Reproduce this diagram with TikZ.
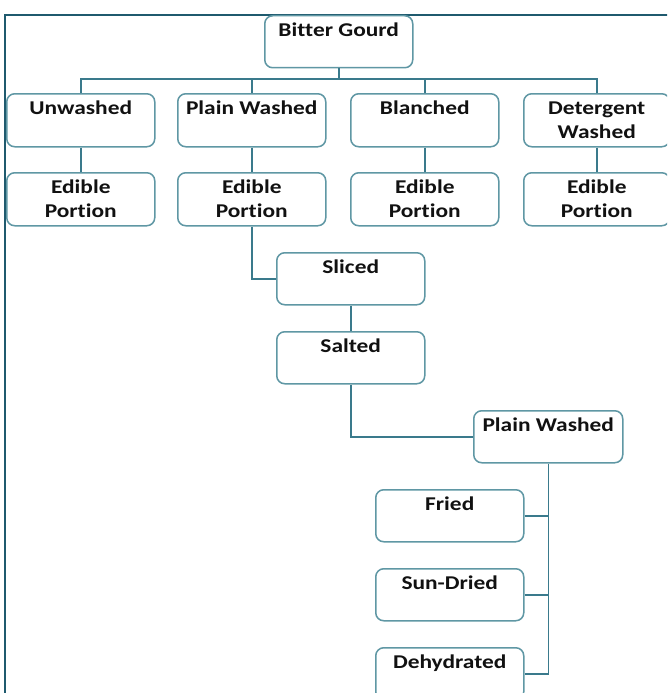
\documentclass[tikz,border=0pt]{standalone}
\usepackage{fontspec}
\setmainfont{Carlito}[FakeStretch=1.2, Ligatures={NoCommon}]
\definecolor{framec}{HTML}{1F5A6E}
\definecolor{boxc}{HTML}{5F97A4}
\definecolor{linec}{HTML}{3A7A8C}
\definecolor{txtc}{HTML}{111111}
\tikzset{
  box/.style={draw=boxc, line width=1.5pt, rounded corners=8pt, minimum width=148pt,
    minimum height=53pt, inner sep=0pt, anchor=north west, fill=white},
  lbl/.style={anchor=base, yshift=-21.5pt, inner sep=0pt, align=center, text=txtc,
    font=\fontsize{19.5}{24}\selectfont\bfseries},
  lbltwo/.style={lbl, yshift=-23.5pt},
  conn/.style={draw=linec, line width=1.5pt},
  framestyle/.style={draw=framec, line width=2pt}
}
\begin{document}
\begin{tikzpicture}[x=1pt,y=-1pt]
\useasboundingbox (0,0) rectangle (667,693);
\clip (0,0) rectangle (667,693);
\fill[white] (0,0) rectangle (667,693);
\draw[framestyle] (5,15) rectangle (690,720);
\coordinate (bus) at (0,79);
\node[box, minimum height=52pt, label={[lbl]north:Bitter Gourd}] (bg) at (264,15) {};
\node[box, label={[lbl]north:Unwashed}] (unw) at (6,93) {};
\node[box, label={[lbl]north:Plain Washed}] (pw) at (177,93) {};
\node[box, label={[lbl]north:Blanched}] (bl) at (350,93) {};
\node[box, minimum width=146pt, label={[lbltwo]north:Detergent\\Washed}] (dw) at (523,93) {};
\node[box, label={[lbltwo]north:Edible\\Portion}] (e1) at (6,172) {};
\node[box, label={[lbltwo]north:Edible\\Portion}] (e2) at (177,172) {};
\node[box, label={[lbltwo]north:Edible\\Portion}] (e3) at (350,172) {};
\node[box, minimum width=146pt, label={[lbltwo]north:Edible\\Portion}] (e4) at (523,172) {};
\node[box, minimum height=52pt, label={[lbl]north:Sliced}] (sl) at (276,252) {};
\node[box, minimum height=52pt, label={[lbl]north:Salted}] (sa) at (276,331) {};
\node[box, minimum width=149pt, minimum height=52pt, label={[lbl]north:Plain Washed}] (pw2) at (473,410) {};
\node[box, minimum height=52pt, label={[lbl]north:Fried}] (fr) at (375,489) {};
\node[box, minimum height=52pt, label={[lbl]north:Sun-Dried}] (sd) at (375,568) {};
\node[box, minimum height=52pt, label={[lbl]north:Dehydrated}] (dh) at (375,647) {};
% connectors
\draw[conn] (bg.south) -- (bg.south |- bus);
\draw[conn] (unw.north) -- (unw.north |- bus) -- (dw.north |- bus) -- (dw.north);
\draw[conn] (pw.north) -- (pw.north |- bus);
\draw[conn] (bl.north) -- (bl.north |- bus);
\draw[conn] (unw.south) -- (e1.north);
\draw[conn] (pw.south) -- (e2.north);
\draw[conn] (bl.south) -- (e3.north);
\draw[conn] (dw.south) -- (e4.north);
\draw[conn] (e2.south) |- (sl.west);
\draw[conn] (sl.south) -- (sa.north);
\draw[conn] (sa.south) |- (pw2.west);
\draw[conn] (pw2.south) |- (dh.east);
\draw[conn] (fr.east) -- (fr.east -| pw2.south);
\draw[conn] (sd.east) -- (sd.east -| pw2.south);
\end{tikzpicture}
\end{document}
